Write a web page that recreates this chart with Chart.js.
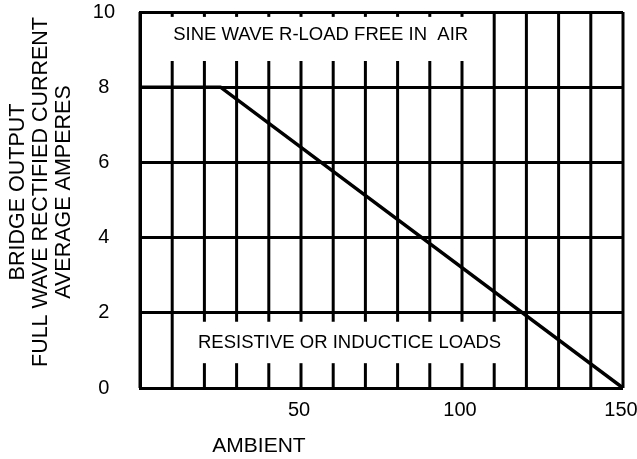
<!DOCTYPE html>
<html>
<head>
<meta charset="utf-8">
<script src="https://cdn.jsdelivr.net/npm/chart.js@4.4.0/dist/chart.umd.min.js"></script>
<style>
  html, body { margin: 0; padding: 0; background: #fff; }
  #wrap { width: 637px; height: 459px; }
</style>
</head>
<body>
<div id="wrap"><canvas id="derating"></canvas></div>
<script>
// derating curve: ambient (x) vs average amperes (y)
var ambient = [0, 25, 150];
var amperes = [8, 8, 0];
var xTickLabels = [50, 100, 150];
var yTickLabels = [0, 2, 4, 6, 8, 10];
var verticalGrid = [0, 10, 20, 30, 40, 50, 60, 70, 80, 90, 100, 110, 120, 130, 140, 150];

var FONT = '"Liberation Sans", Arial, sans-serif';

// vertical grid lines, broken where the two notes sit
var gridPlugin = {
  id: 'gridPlugin',
  beforeDatasetsDraw: function(chart) {
    var ctx = chart.ctx;
    var xs = chart.scales.x, ys = chart.scales.y;
    ctx.save();
    ctx.strokeStyle = '#000';
    ctx.lineWidth = 3;
    verticalGrid.forEach(function(v) {
      var px = xs.getPixelForValue(v);
      var segs = [[0, 10]];
      if (v >= 10 && v <= 100) segs = [[0, 8.7], [9.87, 10]];
      if (v >= 20 && v <= 110) {
        segs = segs.reduce(function(out, s) {
          if (s[0] < 0.66 && s[1] > 1.76) { out.push([s[0], 0.66]); out.push([1.76, s[1]]); }
          else out.push(s);
          return out;
        }, []);
      }
      segs.forEach(function(s) {
        ctx.beginPath();
        ctx.moveTo(px, ys.getPixelForValue(s[0]));
        ctx.lineTo(px, ys.getPixelForValue(s[1]));
        ctx.stroke();
      });
    });
    ctx.restore();
  },
  afterDraw: function(chart) {
    var ctx = chart.ctx;
    var xs = chart.scales.x, ys = chart.scales.y;
    ctx.save();
    ctx.fillStyle = '#000';
    ctx.textBaseline = 'middle';

    // notes inside the plot
    ctx.font = '18.5px ' + FONT;
    ctx.textAlign = 'left';
    ctx.fillText('SINE WAVE R-LOAD FREE IN  AIR', xs.getPixelForValue(10.3), ys.getPixelForValue(9.38));
    ctx.fillText('RESISTIVE OR INDUCTICE LOADS', xs.getPixelForValue(18), ys.getPixelForValue(1.19));

    // x title
    ctx.font = '21px ' + FONT;
    ctx.textAlign = 'center';
    ctx.fillText('AMBIENT', 259, 446);

    // y title, three rotated lines
    ctx.font = '21.5px ' + FONT;
    var lines = ['BRIDGE OUTPUT', 'FULL WAVE RECTIFIED CURRENT', 'AVERAGE AMPERES'];
    var cx = [18, 41, 64];
    lines.forEach(function(t, i) {
      ctx.save();
      ctx.translate(cx[i], 192);
      ctx.rotate(-Math.PI / 2);
      ctx.fillText(t, 0, 0);
      ctx.restore();
    });
    ctx.restore();
  }
};

new Chart(document.getElementById('derating'), {
  type: 'scatter',
  data: {
    datasets: [{
      data: ambient.map(function(a, i) { return { x: a, y: amperes[i] }; }),
      showLine: true,
      borderColor: '#000',
      borderWidth: 3.5,
      pointRadius: 0,
      tension: 0
    }]
  },
  options: {
    responsive: true,
    maintainAspectRatio: false,
    animation: false,
    layout: { padding: { top: 12, right: 14, bottom: 0, left: 0 } },
    plugins: { legend: { display: false }, tooltip: { enabled: false } },
    scales: {
      x: {
        type: 'linear',
        min: 0,
        max: 150,
        grid: { display: false, drawTicks: false },
        border: { display: false },
        afterBuildTicks: function(scale) {
          scale.ticks = xTickLabels.map(function(v) { return { value: v }; });
        },
        afterFit: function(scale) {
          scale.height = 71;
          scale.paddingRight = 0;
          scale.paddingLeft = 0;
        },
        ticks: {
          autoSkip: false,
          maxRotation: 0,
          padding: 10,
          labelOffset: -2,
          color: '#000',
          font: { family: FONT, size: 20 }
        }
      },
      y: {
        min: 0,
        max: 10,
        grid: { color: '#000', lineWidth: 3, drawTicks: false },
        border: { color: '#000', width: 3 },
        afterBuildTicks: function(scale) {
          scale.ticks = yTickLabels.map(function(v) { return { value: v }; });
        },
        afterFit: function(scale) {
          scale.width = 140;
          scale.paddingTop = 0;
          scale.paddingBottom = 0;
        },
        ticks: {
          padding: 25,
          crossAlign: 'center',
          color: '#000',
          font: { family: FONT, size: 20 }
        }
      }
    }
  },
  plugins: [gridPlugin]
});
</script>
</body>
</html>
